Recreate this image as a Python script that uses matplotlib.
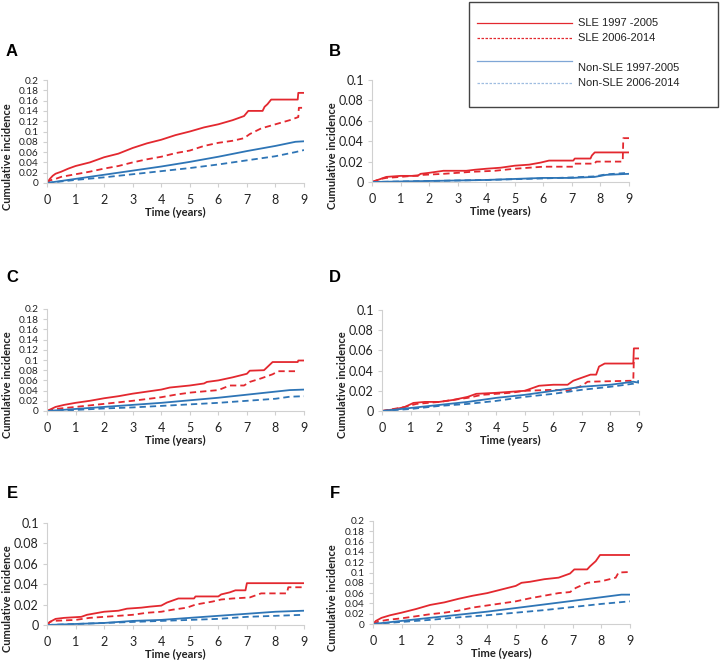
"""
Cumulative incidence, SLE vs non-SLE, two calendar periods (panels A-F).
Saves out.png.
"""
import matplotlib.pyplot as plt
from matplotlib.lines import Line2D

RED = "#e3282f"
BLUE = "#2e75b6"

PANELS = ["A", "B", "C", "D", "E", "F"]
YMAX = [0.2, 0.1, 0.2, 0.1, 0.1, 0.2]
X_TICKS = list(range(10))
TIME_LABEL = "Time (years)"
Y_LABEL = "Cumulative incidence"
LEGEND_LABELS = ["SLE 1997 -2005", "SLE 2006-2014", "Non-SLE 1997-2005", "Non-SLE 2006-2014"]

# each series: (time, cumulative incidence) points
A_SLE1 = [(0, 0), (0.1, 0.008), (0.2, 0.014), (0.3, 0.018), (0.5, 0.022), (0.75, 0.028), (1, 0.033),
          (1.5, 0.040), (2, 0.050), (2.5, 0.057), (3, 0.068), (3.5, 0.077), (4, 0.084), (4.5, 0.093),
          (5, 0.100), (5.5, 0.108), (6, 0.114), (6.5, 0.122), (6.9, 0.130), (7.05, 0.140), (7.55, 0.140),
          (7.62, 0.148), (7.72, 0.153), (7.85, 0.162), (8.78, 0.162), (8.8, 0.175), (9, 0.175)]
A_SLE2 = [(0, 0), (0.1, 0.005), (0.3, 0.008), (0.5, 0.012), (1, 0.017), (1.5, 0.022), (2, 0.028),
          (2.5, 0.033), (3, 0.040), (3.5, 0.046), (4, 0.051), (4.5, 0.058), (5, 0.063), (5.5, 0.072),
          (6, 0.078), (6.5, 0.082), (6.9, 0.087), (7.1, 0.095), (7.5, 0.106), (8, 0.114), (8.5, 0.122),
          (8.8, 0.128), (8.82, 0.146), (9, 0.146)]
A_NON1 = [(0, 0), (1, 0.008), (2, 0.016), (3, 0.024), (4, 0.032), (5, 0.041), (6, 0.051), (7, 0.062),
          (8, 0.072), (8.7, 0.080), (9, 0.081)]
A_NON2 = [(0, 0), (1, 0.006), (2, 0.011), (3, 0.017), (4, 0.023), (5, 0.029), (6, 0.036), (7, 0.044),
          (8, 0.052), (8.7, 0.060), (9, 0.064)]

B_SLE1 = [(0, 0), (0.2, 0.002), (0.5, 0.005), (1, 0.006), (1.6, 0.006), (1.7, 0.008), (2, 0.009),
          (2.5, 0.011), (3.3, 0.011), (3.6, 0.012), (4, 0.013), (4.5, 0.014), (5, 0.016), (5.5, 0.017),
          (5.9, 0.019), (6.2, 0.021), (7.05, 0.021), (7.1, 0.023), (7.65, 0.023), (7.7, 0.026),
          (7.8, 0.029), (9, 0.029)]
B_SLE2 = [(0, 0), (0.3, 0.003), (0.5, 0.004), (1, 0.005), (1.8, 0.007), (2.5, 0.008), (3, 0.009),
          (3.5, 0.010), (4.3, 0.011), (5, 0.013), (5.5, 0.014), (6, 0.015), (7.05, 0.015), (7.1, 0.018),
          (7.8, 0.018), (7.85, 0.020), (8.78, 0.020), (8.8, 0.043), (9, 0.043)]
B_NON1 = [(0, 0), (2, 0.001), (4, 0.002), (6, 0.004), (7, 0.004), (7.8, 0.005), (8.2, 0.007), (9, 0.008)]
B_NON2 = [(0, 0), (2, 0.001), (4, 0.002), (6, 0.0035), (7, 0.0045), (7.8, 0.0055), (8.2, 0.0075), (9, 0.009)]

C_SLE1 = [(0, 0), (0.3, 0.008), (0.6, 0.012), (1, 0.016), (1.5, 0.020), (2, 0.025), (2.5, 0.029),
          (3, 0.034), (3.5, 0.038), (4, 0.042), (4.3, 0.046), (5, 0.050), (5.5, 0.054), (5.6, 0.057),
          (6, 0.060), (6.5, 0.066), (7, 0.073), (7.1, 0.079), (7.6, 0.080), (7.75, 0.088), (7.9, 0.096),
          (8.78, 0.096), (8.8, 0.099), (9, 0.099)]
C_SLE2 = [(0, 0), (0.3, 0.004), (1, 0.008), (2, 0.014), (3, 0.020), (4, 0.027), (4.5, 0.032), (5, 0.036),
          (6, 0.041), (6.4, 0.050), (6.9, 0.050), (7.1, 0.057), (7.5, 0.064), (7.9, 0.072), (8.1, 0.078),
          (8.8, 0.078)]
C_NON1 = [(0, 0), (1, 0.004), (2, 0.008), (3, 0.012), (4, 0.016), (5, 0.021), (6, 0.026), (7, 0.032),
          (8, 0.038), (8.5, 0.041), (9, 0.042)]
C_NON2 = [(0, 0), (1, 0.002), (2, 0.005), (3, 0.007), (4, 0.010), (5, 0.013), (6, 0.016), (7, 0.020),
          (8, 0.024), (8.5, 0.028), (9, 0.029)]

D_SLE1 = [(0, 0), (0.5, 0.002), (0.8, 0.004), (1.1, 0.008), (1.5, 0.009), (2, 0.009), (2.5, 0.011),
          (3, 0.014), (3.3, 0.017), (4, 0.018), (4.5, 0.019), (5, 0.020), (5.3, 0.023), (5.5, 0.025),
          (6, 0.026), (6.5, 0.026), (6.7, 0.030), (7, 0.033), (7.3, 0.036), (7.5, 0.036), (7.6, 0.044),
          (7.8, 0.047), (8.8, 0.047), (8.82, 0.062), (9, 0.062)]
D_SLE2 = [(0, 0), (0.8, 0.004), (1.2, 0.007), (2, 0.009), (3, 0.013), (3.5, 0.016), (4, 0.017),
          (4.5, 0.018), (5, 0.020), (6, 0.021), (6.5, 0.020), (7, 0.025), (7.2, 0.029), (8.8, 0.030),
          (8.82, 0.052), (9, 0.052)]
D_NON1 = [(0, 0), (1, 0.003), (2, 0.006), (3, 0.009), (4, 0.013), (5, 0.016), (6, 0.020), (7, 0.024),
          (8, 0.026), (8.8, 0.029), (9, 0.028)]
D_NON2 = [(0, 0), (1, 0.002), (2, 0.005), (3, 0.007), (4, 0.010), (5, 0.014), (6, 0.017), (7, 0.021),
          (8, 0.024), (8.8, 0.027), (9, 0.030)]

E_SLE1 = [(0, 0), (0.1, 0.003), (0.3, 0.006), (0.6, 0.007), (1.2, 0.008), (1.4, 0.010), (1.8, 0.012),
          (2, 0.013), (2.5, 0.014), (2.8, 0.016), (3.3, 0.017), (3.6, 0.018), (4, 0.019), (4.2, 0.022),
          (4.4, 0.024), (4.6, 0.026), (5.15, 0.026), (5.2, 0.028), (6, 0.028), (6.1, 0.030), (6.4, 0.032),
          (6.6, 0.034), (6.95, 0.034), (7, 0.041), (9, 0.041)]
E_SLE2 = [(0, 0), (0.1, 0.003), (0.2, 0.004), (1, 0.005), (1.5, 0.007), (2, 0.008), (2.5, 0.009),
          (3, 0.010), (3.5, 0.012), (4, 0.013), (4.4, 0.015), (4.9, 0.017), (5.2, 0.020), (5.8, 0.023),
          (6.1, 0.025), (6.5, 0.026), (7.1, 0.027), (7.5, 0.031), (8.4, 0.031), (8.45, 0.037), (9, 0.037)]
E_NON1 = [(0, 0), (1, 0.001), (2, 0.002), (3, 0.004), (4, 0.005), (5, 0.007), (6, 0.009), (7, 0.011),
          (8, 0.013), (9, 0.014)]
E_NON2 = [(0, 0), (2, 0.002), (3, 0.003), (4, 0.004), (5, 0.005), (6, 0.006), (7, 0.008), (8, 0.009),
          (9, 0.010)]

F_SLE1 = [(0, 0), (0.1, 0.006), (0.3, 0.012), (0.6, 0.017), (1, 0.022), (1.5, 0.029), (2, 0.037),
          (2.5, 0.042), (3, 0.049), (3.5, 0.055), (4, 0.060), (4.5, 0.067), (5, 0.074), (5.2, 0.080),
          (5.5, 0.082), (6, 0.087), (6.5, 0.090), (6.9, 0.098), (7.05, 0.106), (7.5, 0.106), (7.6, 0.112),
          (7.8, 0.122), (7.95, 0.134), (9, 0.134)]
F_SLE2 = [(0, 0), (0.2, 0.005), (0.5, 0.008), (1, 0.011), (1.5, 0.015), (2, 0.019), (2.5, 0.022),
          (3, 0.026), (3.5, 0.032), (4, 0.036), (4.5, 0.040), (5, 0.044), (5.5, 0.050), (6, 0.055),
          (6.5, 0.060), (6.9, 0.062), (7.1, 0.070), (7.5, 0.080), (8, 0.083), (8.5, 0.090), (8.6, 0.100),
          (9, 0.101)]
F_NON1 = [(0, 0), (1, 0.006), (2, 0.012), (3, 0.018), (4, 0.024), (5, 0.031), (6, 0.038), (7, 0.045),
          (8, 0.052), (8.7, 0.057), (9, 0.057)]
F_NON2 = [(0, 0), (1, 0.004), (2, 0.008), (3, 0.013), (4, 0.017), (5, 0.022), (6, 0.027), (7, 0.033),
          (8, 0.039), (9, 0.044)]

SERIES = {
    "A": [A_SLE1, A_SLE2, A_NON1, A_NON2],
    "B": [B_SLE1, B_SLE2, B_NON1, B_NON2],
    "C": [C_SLE1, C_SLE2, C_NON1, C_NON2],
    "D": [D_SLE1, D_SLE2, D_NON1, D_NON2],
    "E": [E_SLE1, E_SLE2, E_NON1, E_NON2],
    "F": [F_SLE1, F_SLE2, F_NON1, F_NON2],
}

# axes boxes in pixels: left, top, right, bottom
BOXES = {
    "A": (47, 80, 304, 183), "B": (372, 80, 629, 182),
    "C": (47, 309, 304, 411), "D": (382, 310, 639, 411),
    "E": (47, 523, 304, 625), "F": (373, 521, 630, 624),
}
DASH = (0, (3.5, 2.2))
STYLES = [
    dict(color=RED, ls="-"),
    dict(color=RED, ls=DASH),
    dict(color=BLUE, ls="-"),
    dict(color=BLUE, ls=DASH),
]

W, H = 720, 662
TICK_FONT = "Lato"
LABEL_FONT = "Lato"


def fmt_tick(v):
    return f"{v:.2f}".rstrip("0").rstrip(".")


fig = plt.figure(figsize=(W / 100, H / 100), dpi=100)

for name, ymax in zip(PANELS, YMAX):
    l, t, r, b = BOXES[name]
    ax = fig.add_axes([l / W, 1 - b / H, (r - l) / W, (b - t) / H])
    for pts, st in zip(SERIES[name], STYLES):
        xs = [p[0] for p in pts]
        ys = [p[1] for p in pts]
        ax.plot(xs, ys, lw=1.3, **st)
    ax.set_xlim(0, 9)
    ax.set_ylim(0, ymax)
    yt = [i * 0.02 for i in range(int(round(ymax / 0.02)) + 1)]
    ysize = 7.3 if len(yt) > 6 else 9
    ax.set_yticks(yt)
    ax.set_yticklabels([fmt_tick(v) for v in yt], fontfamily=TICK_FONT, fontsize=ysize, color="#222222")
    ax.set_xticks(X_TICKS)
    ax.set_xticklabels([str(v) for v in X_TICKS], fontfamily=TICK_FONT, fontsize=9, color="#222222")
    for s in ("top", "right"):
        ax.spines[s].set_visible(False)
    for s in ("left", "bottom"):
        ax.spines[s].set_color("#d0d0d0")
        ax.spines[s].set_linewidth(0.8)
    ax.tick_params(axis="both", direction="out", length=3, width=0.8, color="#d0d0d0", pad=3)
    ax.tick_params(axis="x", pad=5)

    # panel letter, axis titles
    lx = 12 if name in "ACE" else 335
    ly = {"A": 51, "B": 51, "C": 278, "D": 278, "E": 493, "F": 493}[name]
    fig.text(lx / W, 1 - ly / H, name, fontsize=12, fontweight="bold",
             fontfamily="Liberation Sans", ha="center", va="center")
    ylx = {"A": 8, "B": 332, "C": 8, "D": 342, "E": 8, "F": 332}[name]
    fig.text(ylx / W, 1 - (b - 26) / H, Y_LABEL, rotation=90, fontsize=8, fontweight="bold",
             fontfamily=LABEL_FONT, ha="center", va="center", color="#222222")
    fig.text((l + r) / 2 / W, 1 - (b + 29) / H, TIME_LABEL, fontsize=8, fontweight="bold",
             fontfamily=LABEL_FONT, ha="center", va="center", color="#222222")

# legend box drawn by hand to mimic the spreadsheet layout
box = plt.Rectangle((469 / W, 1 - 107 / H), 249 / W, 105 / H, transform=fig.transFigure,
                    fill=False, edgecolor="#444444", lw=1.0)
fig.patches.append(box)
leg_line_y = [23, 38, 61, 83]
leg_text_y = [23, 38, 68, 83]
leg_styles = [(RED, "-"), (RED, (0, (2, 1.2))), ("#7fa6d6", "-"), ("#9fbde0", (0, (2, 1.2)))]
for lab, yl, yt_, (c, ls) in zip(LEGEND_LABELS, leg_line_y, leg_text_y, leg_styles):
    fig.add_artist(Line2D([477 / W, 572 / W], [1 - yl / H, 1 - yl / H], transform=fig.transFigure,
                          color=c, ls=ls, lw=0.9))
    fig.text(578 / W, 1 - yt_ / H, lab, fontsize=8, fontfamily="Liberation Sans",
             ha="left", va="center", color="#222222")

fig.savefig("out.png", dpi=100)
